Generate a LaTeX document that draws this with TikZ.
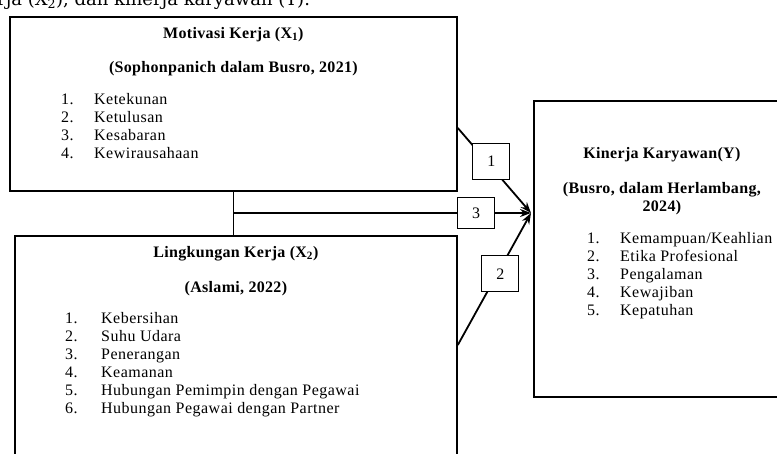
\documentclass[tikz,border=0pt]{standalone}
\usepackage{fontspec}
\setmainfont{Liberation Serif}
\newfontfamily\introfont{DejaVu Serif}
\usetikzlibrary{arrows.meta,positioning,calc}

\tikzset{
  varbox/.style={draw, line width=1.8pt, inner sep=0pt, anchor=north west},
  numbox/.style={draw, line width=1.1pt, fill=white, minimum width=37pt, minimum height=36pt, inner sep=0pt, font=\fontsize{16}{18}\selectfont},
  link/.style={line width=1.8pt},
  arrowlink/.style={link, -{Stealth[length=11pt,width=8pt]}},
  headline/.style={anchor=base, inner sep=0pt, font=\fontsize{16}{18}\selectfont\bfseries\addfontfeature{LetterSpace=2}},
  itemlist/.style={anchor=base west, inner sep=0pt, font=\fontsize{16}{18}\selectfont\addfontfeature{LetterSpace=3}},
}

\begin{document}
\begin{tikzpicture}[x=1pt, y=-1pt]
  \useasboundingbox (0,0) rectangle (777,453);
  \clip (0,0) rectangle (777,453);

  % line of running text cut by the top edge
  \node[anchor=base west, inner sep=0pt, font=\introfont\fontsize{18}{22}\selectfont] (intro) at (-3,5) {rja (X\textsubscript{2}), dan kinerja karyawan (Y).};

  % the three variables
  \node[varbox, minimum width=447pt, minimum height=174pt] (motivasi) at (9,16) {};
  \node[headline] (motivasititle) at ($(motivasi.north)+(0,22)$) {Motivasi Kerja (X\textsubscript{1})};
  \node[headline] (motivasisrc) at ($(motivasi.north)+(0,56)$) {(Sophonpanich dalam Busro, 2021)};
  \node[itemlist] (motivasilist) at ($(motivasi.north west)+(52,88)$) {%
    \begin{tabular}[t]{@{}p{33pt}@{}l@{}}
      1. & Ketekunan\\
      2. & Ketulusan\\
      3. & Kesabaran\\
      4. & Kewirausahaan
    \end{tabular}};

  \node[varbox, minimum width=442pt, minimum height=240pt] (lingkungan) at (14,235) {};
  \node[headline] (lingkungantitle) at ($(lingkungan.north)+(0,22)$) {Lingkungan Kerja (X\textsubscript{2})};
  \node[headline] (lingkungansrc) at ($(lingkungan.north)+(0,57)$) {(Aslami, 2022)};
  \node[itemlist] (lingkunganlist) at ($(lingkungan.north west)+(51,88)$) {%
    \begin{tabular}[t]{@{}p{36pt}@{}l@{}}
      1. & Kebersihan\\
      2. & Suhu Udara\\
      3. & Penerangan\\
      4. & Keamanan\\
      5. & Hubungan Pemimpin dengan Pegawai\\
      6. & Hubungan Pegawai dengan Partner
    \end{tabular}};

  \node[varbox, minimum width=256pt, minimum height=296pt] (kinerja) at (533,100) {};
  \node[headline] (kinerjatitle) at ($(kinerja.north)+(0,58)$) {Kinerja Karyawan(Y)};
  \node[headline] (kinerjasrc) at ($(kinerja.north)+(0,93)$) {%
    \begin{tabular}[t]{@{}c@{}}(Busro, dalam Herlambang,\\2024)\end{tabular}};
  \node[itemlist] (kinerjalist) at ($(kinerja.north west)+(54,143)$) {%
    \begin{tabular}[t]{@{}p{33pt}@{}l@{}}
      1. & Kemampuan/Keahlian\\
      2. & Etika Profesional\\
      3. & Pengalaman\\
      4. & Kewajiban\\
      5. & Kepatuhan
    \end{tabular}};

  % paths into Y
  \coordinate (target) at ($(kinerja.north west)+(-2,113)$);
  \coordinate (junction) at (motivasi.south |- target);
  \coordinate (motivasiout) at ($(motivasi.north east)+(0,112)$);
  \coordinate (lingkunganout) at ($(lingkungan.north east)+(0,110)$);

  \draw[link] (motivasi.south) -- (motivasi.south |- lingkungan.north);
  \draw[arrowlink] (junction) -- node[numbox, minimum height=31pt, pos=0.816] (pathc) {3} (target);
  \draw[arrowlink] (motivasiout) -- node[numbox, pos=0.39, xshift=5pt] (patha) {1} (target);
  \draw[arrowlink] (lingkunganout) -- node[numbox, pos=0.54, xshift=3pt] (pathb) {2} (target);
\end{tikzpicture}
\end{document}
